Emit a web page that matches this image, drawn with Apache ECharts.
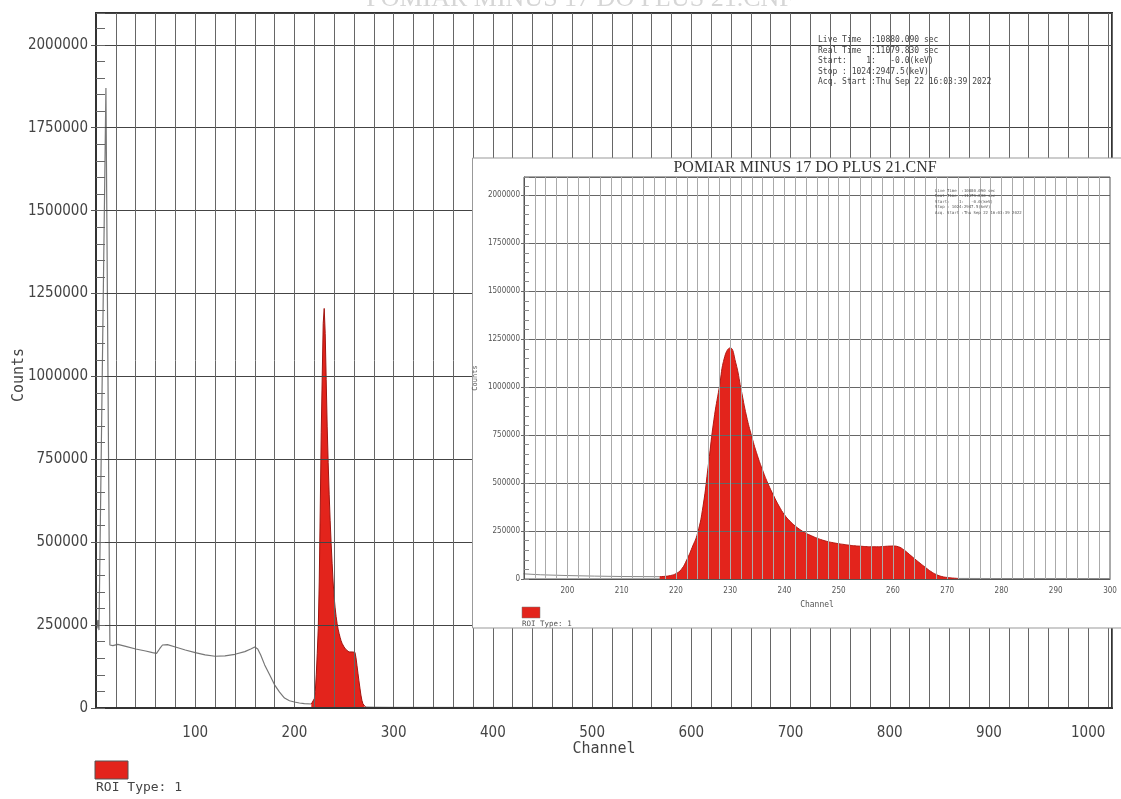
<!DOCTYPE html>
<html>
<head>
<meta charset="utf-8">
<script src="https://cdn.jsdelivr.net/npm/echarts@6/dist/echarts.min.js"></script>
<style>
html,body{margin:0;padding:0;background:#fff;}
#chart{width:1121px;height:799px;}
</style>
</head>
<body>
<div id="chart"></div>
<script>
// ---- data ----
const chartTitle = 'POMIAR MINUS 17 DO PLUS 21.CNF';
const infoLines = [
  'Live Time  :10880.090 sec',
  'Real Time  :11079.830 sec',
  'Start:    1:   -0.0(keV)',
  'Stop : 1024:2947.5(keV)',
  'Acq. Start :Thu Sep 22 16:03:39 2022'
];
// background (non-ROI) spectrum, grey line
const bgChannels = [0, 1, 2, 3, 10, 14, 17, 22, 30, 40, 50, 57, 61, 64, 67, 72, 80, 90, 100, 110, 120, 130, 140, 150, 156, 160, 163, 166, 170, 175, 180, 185, 190, 195, 200, 205, 210, 217];
const bgCounts   = [290000, 240000, 265000, 235000, 1870000, 190000, 188000, 192000, 186000, 178000, 172000, 167000, 165000, 178000, 190000, 191000, 184000, 175000, 167000, 160000, 156000, 157000, 162000, 170000, 178000, 184000, 178000, 160000, 130000, 100000, 70000, 48000, 30000, 22000, 18000, 15000, 13000, 12000];
// spectrum after the ROI
const tailChannels = [272, 280, 300, 500, 800, 1024];
const tailCounts   = [3000, 2500, 2000, 1500, 1000, 800];
// ROI (red) region
const roiChannels = [217, 218, 219, 220, 221, 222, 223, 224, 225, 226, 227, 228, 229, 230, 231, 232, 233, 234, 235, 236, 237, 238, 239, 240, 241, 242, 243, 244, 245, 246, 247, 248, 249, 250, 251, 252, 253, 254, 255, 256, 257, 258, 259, 260, 261, 262, 263, 264, 265, 266, 267, 268, 269, 270, 271, 272];
const roiCounts   = [12000, 14000, 18000, 28000, 50000, 100000, 165000, 240000, 380000, 600000, 830000, 1000000, 1160000, 1205000, 1130000, 990000, 850000, 740000, 645000, 565000, 495000, 435000, 380000, 335000, 302000, 276000, 255000, 238000, 225000, 213000, 203000, 195000, 189000, 184000, 180000, 176000, 173000, 171000, 169000, 168000, 168000, 169000, 171000, 172000, 168000, 152000, 129000, 105000, 82000, 60000, 39000, 23000, 13000, 8000, 5000, 3000];
const legendLabel = 'ROI Type: 1';
const xName = 'Channel';
const yName = 'Counts';

// ---- build ----
const zip = (a, b) => a.map((v, i) => [v, b[i]]);
const bgData = zip(bgChannels, bgCounts);
const tailData = zip(tailChannels, tailCounts);
const roiData = zip(roiChannels, roiCounts);

const Y_MAX = 2096000;
const numFont = "'DejaVu Sans Condensed', 'Liberation Sans Narrow', 'DejaVu Sans', sans-serif";
const monoFont = "'DejaVu Sans Mono', 'Liberation Mono', monospace";
const RED = '#e3241c';
const plainNum = v => String(Math.round(v));

const chart = echarts.init(document.getElementById('chart'), null, {renderer: 'canvas'});

const option = {
  animation: false,
  backgroundColor: '#ffffff',
  grid: [
    {left: 96, top: 13, width: 1016, height: 695, show: true, borderColor: '#333', borderWidth: 2,
      backgroundColor: 'transparent', containLabel: false, outerBoundsMode: 'none'},
    {left: 524, top: 177, width: 586, height: 402, show: true, borderColor: '#555', borderWidth: 1,
      backgroundColor: '#fff', z: 15, containLabel: false, outerBoundsMode: 'none'}
  ],
  xAxis: [
    {
      type: 'value', gridIndex: 0, min: 0, max: 1024, interval: 20, z: 3,
      name: xName, nameLocation: 'middle', nameGap: 34, nameMoveOverlap: false,
      nameTextStyle: {fontFamily: monoFont, fontSize: 15, color: '#444'},
      axisLine: {show: true, lineStyle: {color: '#333', width: 2}},
      axisTick: {show: false},
      axisLabel: {fontFamily: numFont, fontSize: 15, color: '#444', margin: 18,
        formatter: v => (v > 0 && v % 100 === 0) ? String(v) : ''},
      splitLine: {show: true, lineStyle: {color: '#666', width: 1}}
    },
    {
      type: 'value', gridIndex: 1, min: 192, max: 300, interval: 2, z: 26,
      name: xName, nameLocation: 'middle', nameGap: 22, nameMoveOverlap: false,
      nameTextStyle: {fontFamily: monoFont, fontSize: 8, color: '#555'},
      axisLine: {show: true, lineStyle: {color: '#555', width: 1}},
      axisTick: {show: false},
      axisLabel: {fontFamily: numFont, fontSize: 8, color: '#555', margin: 8,
        formatter: v => (v % 10 === 0) ? String(v) : ''},
      splitLine: {show: true, lineStyle: {color: '#aaa', width: 1}}
    }
  ],
  yAxis: [
    {
      type: 'value', gridIndex: 0, position: 'left', min: 0, max: Y_MAX, interval: 250000, z: 3,
      axisLine: {show: true, lineStyle: {color: '#333', width: 2}},
      axisTick: {show: true, length: 5, lineStyle: {color: '#555'}},
      axisLabel: {fontFamily: numFont, fontSize: 15, color: '#444', margin: 8, showMaxLabel: false, formatter: plainNum},
      splitLine: {show: true, lineStyle: {color: '#444', width: 1}}
    },
    {
      type: 'value', gridIndex: 0, position: 'left', min: 0, max: Y_MAX, interval: 50000, z: 3,
      axisLine: {show: false},
      axisTick: {show: true, inside: true, length: 9, lineStyle: {color: '#666'}},
      axisLabel: {show: false},
      splitLine: {show: false}
    },
    {
      type: 'value', gridIndex: 1, position: 'left', min: 0, max: Y_MAX, interval: 250000, z: 26,
      name: yName, nameLocation: 'middle', nameGap: 45, nameMoveOverlap: false,
      nameTextStyle: {fontFamily: monoFont, fontSize: 7, color: '#555'},
      axisLine: {show: true, lineStyle: {color: '#555', width: 1}},
      axisTick: {show: true, length: 3, lineStyle: {color: '#666'}},
      axisLabel: {fontFamily: numFont, fontSize: 8, color: '#555', margin: 4, showMaxLabel: false, formatter: plainNum},
      splitLine: {show: true, lineStyle: {color: '#666', width: 1}}
    },
    {
      type: 'value', gridIndex: 1, position: 'left', min: 0, max: Y_MAX, interval: 50000, z: 26,
      axisLine: {show: false},
      axisTick: {show: true, inside: true, length: 5, lineStyle: {color: '#888'}},
      axisLabel: {show: false},
      splitLine: {show: false}
    }
  ],
  series: [
    {type: 'line', xAxisIndex: 0, yAxisIndex: 0, data: bgData, symbol: 'none', z: 2,
      lineStyle: {color: '#777', width: 1.2}},
    {type: 'line', xAxisIndex: 0, yAxisIndex: 0, data: tailData, symbol: 'none', z: 2,
      lineStyle: {color: '#777', width: 1}},
    {type: 'line', xAxisIndex: 0, yAxisIndex: 0, data: roiData, symbol: 'none', z: 2,
      lineStyle: {color: '#a01510', width: 1}, areaStyle: {color: RED, opacity: 1}},
    {type: 'line', xAxisIndex: 1, yAxisIndex: 2, data: bgData, symbol: 'none', z: 25, clip: true,
      lineStyle: {color: '#888', width: 1}},
    {type: 'line', xAxisIndex: 1, yAxisIndex: 2, data: tailData, symbol: 'none', z: 25, clip: true,
      lineStyle: {color: '#888', width: 1}},
    {type: 'line', xAxisIndex: 1, yAxisIndex: 2, data: roiData, symbol: 'none', z: 25, clip: true, smooth: 0.5,
      lineStyle: {color: '#b01a14', width: 1}, areaStyle: {color: RED, opacity: 1}}
  ],
  graphic: {elements: [
    // faint clipped title at the top
    {type: 'text', x: 580, y: -14, z: 1, silent: true,
      style: {text: chartTitle, font: "26px 'Liberation Serif', serif", fill: '#d6d6d6', align: 'center', verticalAlign: 'top'}},
    // main y-axis name
    {type: 'text', x: 19, y: 375, rotation: Math.PI / 2, z: 5,
      style: {text: yName, font: "15px " + monoFont, fill: '#444', align: 'center', verticalAlign: 'middle'}},
    // info block main
    {type: 'text', x: 818, y: 35, z: 5, silent: true,
      style: {text: infoLines.join('\n'), font: "8px " + monoFont, lineHeight: 10.5, fill: '#444'}},
    // main legend
    {type: 'rect', shape: {x: 95, y: 761, width: 33, height: 18}, z: 5,
      style: {fill: RED, stroke: '#555', lineWidth: 1}},
    {type: 'text', x: 96, y: 781, z: 5,
      style: {text: legendLabel, font: "13px " + monoFont, fill: '#444'}},
    // inset box
    {type: 'rect', shape: {x: 472.5, y: 158, width: 660, height: 470}, z: 10,
      style: {fill: '#fff', stroke: '#999', lineWidth: 1}},
    {type: 'text', x: 805, y: 160, z: 30,
      style: {text: chartTitle, font: "16px 'Liberation Serif', serif", fill: '#333', align: 'center', verticalAlign: 'top'}},
    {type: 'text', x: 935, y: 188, z: 30,
      style: {text: infoLines.join('\n'), font: "4px " + monoFont, lineHeight: 5.5, fill: '#555'}},
    {type: 'rect', shape: {x: 522, y: 607, width: 18, height: 11}, z: 30,
      style: {fill: RED, stroke: '#777', lineWidth: 0.5}},
    {type: 'text', x: 522, y: 620, z: 30,
      style: {text: legendLabel, font: "7.5px " + monoFont, fill: '#555'}}
  ]}
};
chart.setOption(option);
</script>
</body>
</html>
